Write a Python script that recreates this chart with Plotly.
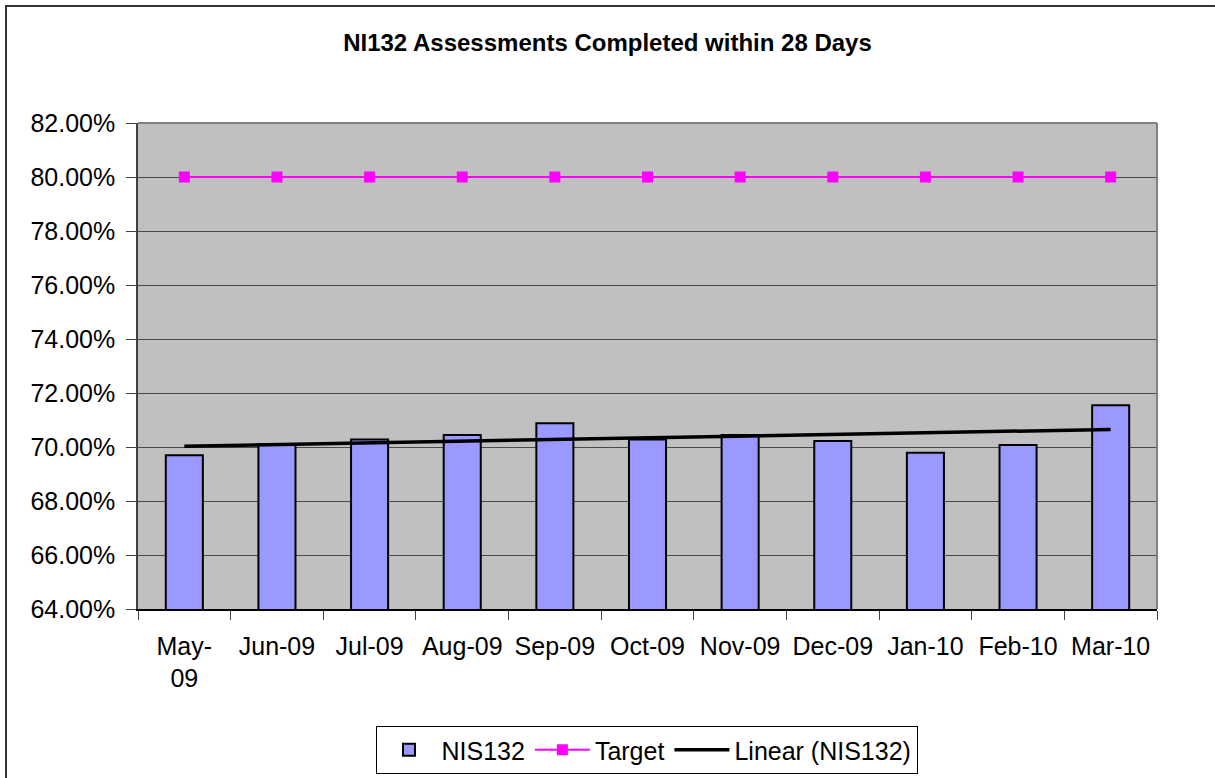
import numpy as np
import plotly.graph_objects as go

months = ["May-09", "Jun-09", "Jul-09", "Aug-09", "Sep-09", "Oct-09",
          "Nov-09", "Dec-09", "Jan-10", "Feb-10", "Mar-10"]
month_labels = ["May-<br>09", "Jun-09", "Jul-09", "Aug-09", "Sep-09", "Oct-09",
                "Nov-09", "Dec-09", "Jan-10", "Feb-10", "Mar-10"]
nis132 = [69.69, 70.10, 70.28, 70.44, 70.88, 70.28, 70.44, 70.22, 69.79, 70.07, 71.55]
target = [80.0] * 11
y_ticks = [64, 66, 68, 70, 72, 74, 76, 78, 80, 82]
y_tick_labels = [f"{v:.2f}%" for v in y_ticks]

# Linear trendline of NIS132 (as Excel's "Linear (NIS132)")
idx = np.arange(len(nis132))
slope, intercept = np.polyfit(idx, nis132, 1)
trend = (slope * idx + intercept).tolist()

W, H = 1215, 778
L, R, T, B = 138, 1157, 123, 609

fig = go.Figure()
fig.add_trace(go.Bar(
    x=months, y=nis132, name="NIS132",
    marker=dict(color="#9999FF", line=dict(color="#000000", width=2)),
))
fig.add_trace(go.Scatter(
    x=months, y=target, name="Target", mode="lines+markers",
    line=dict(color="#FF00FF", width=2),
    marker=dict(symbol="square", size=11, color="#FF00FF"),
))
fig.add_trace(go.Scatter(
    x=months, y=trend, name="Linear (NIS132)", mode="lines",
    line=dict(color="#000000", width=3.5),
))

pw = R - L
ph = B - T
def px_x(p):
    return (p - L) / pw
def px_y(p):
    return (B - p) / ph

shapes = [
    # outer chart border
    dict(type="rect", xref="paper", yref="paper",
         x0=px_x(6), x1=px_x(1230), y0=px_y(800), y1=px_y(6),
         line=dict(color="#333333", width=2), layer="above"),
    # plot area top/right border (gray)
    dict(type="line", xref="paper", yref="paper", x0=0, x1=1, y0=1, y1=1,
         line=dict(color="#808080", width=2)),
    dict(type="line", xref="paper", yref="paper", x0=1, x1=1, y0=0, y1=1,
         line=dict(color="#808080", width=2)),
]

fig.update_layout(
    width=W, height=H,
    margin=dict(l=L, r=W - R, t=T, b=H - B, autoexpand=False),
    paper_bgcolor="#FFFFFF",
    plot_bgcolor="#C0C0C0",
    font=dict(family="Liberation Sans, Arial, sans-serif", size=25, color="#000000"),
    title=dict(text="<b>NI132 Assessments Completed within 28 Days</b>",
               x=0.5, xref="container", xanchor="center",
               y=1 - 43 / H, yref="container", yanchor="middle",
               font=dict(size=24, color="#000000")),
    bargap=0.6,
    showlegend=True,
    legend=dict(orientation="h", x=px_x(646.5), xanchor="center",
                y=px_y(726), yanchor="top",
                bordercolor="#000000", borderwidth=1,
                font=dict(size=25), itemwidth=55,
                traceorder="normal", bgcolor="#FFFFFF"),
    shapes=shapes,
)
fig.update_xaxes(
    type="category", tickmode="array", tickvals=months, ticktext=month_labels,
    range=[-0.5, len(months) - 0.5],
    tickson="boundaries", ticks="outside", ticklen=9, tickcolor="#404040",
    showline=True, linecolor="#000000", linewidth=1.5,
    showgrid=False, tickfont=dict(size=25), automargin=False,
    ticklabelstandoff=14,
)
fig.update_yaxes(
    range=[64, 82], tickmode="array", tickvals=y_ticks, ticktext=y_tick_labels,
    ticks="outside", ticklen=10, tickcolor="#404040",
    showline=True, linecolor="#404040", linewidth=1.5,
    showgrid=True, gridcolor="#4a4a4a", gridwidth=1,
    zeroline=False, tickfont=dict(size=25), automargin=False,
    ticklabelstandoff=6,
)

fig.write_html(
    "out.html",
    config={"displayModeBar": False},
    post_script="document.body.style.margin='0';document.body.style.overflow='hidden';",
)
